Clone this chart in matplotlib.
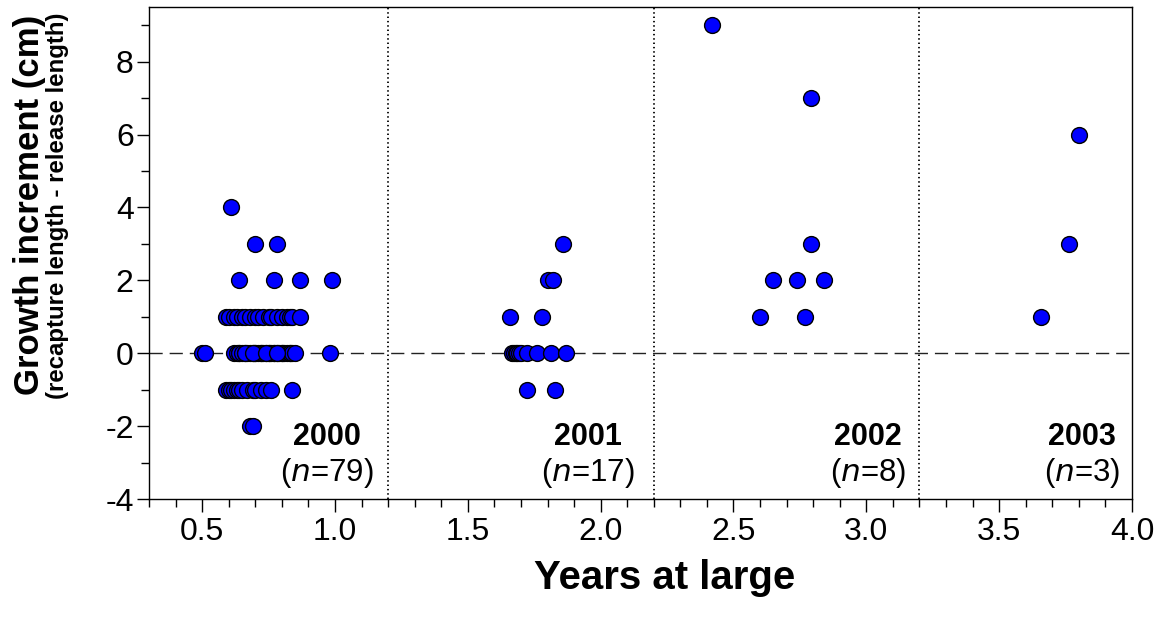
import matplotlib
matplotlib.use("Agg")
import matplotlib.pyplot as plt
from matplotlib.ticker import MultipleLocator, FormatStrFormatter

plt.rcParams['font.family'] = ['Liberation Sans', 'DejaVu Sans']
plt.rcParams['axes.unicode_minus'] = False

# Years at large and growth increment (cm) for each release year
years_2000 = [
    0.61,
    0.70, 0.78,
    0.64, 0.77, 0.87, 0.99,
    0.59, 0.60, 0.62, 0.63, 0.65, 0.66, 0.68, 0.70, 0.71, 0.73, 0.75, 0.76,
    0.78, 0.80, 0.82, 0.83, 0.84, 0.87,
    0.50, 0.51, 0.62, 0.63, 0.64, 0.64, 0.65, 0.66, 0.67, 0.68, 0.69, 0.70,
    0.70, 0.71, 0.72, 0.72, 0.73, 0.74, 0.75, 0.75, 0.76, 0.77, 0.77, 0.78,
    0.79, 0.80, 0.80, 0.81, 0.82, 0.83, 0.83, 0.84, 0.85, 0.66, 0.69, 0.74,
    0.98, 0.78,
    0.59, 0.60, 0.61, 0.62, 0.63, 0.64, 0.65, 0.67, 0.69, 0.70, 0.72, 0.74,
    0.76, 0.84,
    0.68, 0.69,
]
growth_2000 = [
    4,
    3, 3,
    2, 2, 2, 2,
    1, 1, 1, 1, 1, 1, 1, 1, 1, 1, 1, 1,
    1, 1, 1, 1, 1, 1,
    0, 0, 0, 0, 0, 0, 0, 0, 0, 0, 0, 0,
    0, 0, 0, 0, 0, 0, 0, 0, 0, 0, 0, 0,
    0, 0, 0, 0, 0, 0, 0, 0, 0, 0, 0, 0,
    0, 0,
    -1, -1, -1, -1, -1, -1, -1, -1, -1, -1, -1, -1,
    -1, -1,
    -2, -2,
]

years_2001 = [1.859, 1.803, 1.819, 1.658, 1.779,
              1.665, 1.672, 1.680, 1.687, 1.693, 1.700, 1.721, 1.761, 1.812, 1.869,
              1.721, 1.830]
growth_2001 = [3, 2, 2, 1, 1,
               0, 0, 0, 0, 0, 0, 0, 0, 0, 0,
               -1, -1]

years_2002 = [2.419, 2.790, 2.790, 2.649, 2.740, 2.840, 2.599, 2.770]
growth_2002 = [9, 7, 3, 2, 2, 2, 1, 1]

years_2003 = [3.657, 3.762, 3.800]
growth_2003 = [1, 3, 6]

release_years = ["2000", "2001", "2002", "2003"]
sample_sizes = [79, 17, 8, 3]
year_breaks = [1.2, 2.2, 3.2]
label_x = [0.970, 1.952, 3.007, 3.811]

fig = plt.figure(figsize=(11.63, 6.17), dpi=100)
ax = fig.add_axes([149 / 1163, 1 - 499 / 617, (1132 - 149) / 1163, (499 - 7) / 617])

ax.axhline(0, color='#222222', lw=1.0, dashes=(9.5, 5.0), zorder=1)
for xb in year_breaks:
    ax.axvline(xb, color='black', lw=1.3, linestyle=(0, (0.8, 1.6)), zorder=1)

for xs, ys in [(years_2000, growth_2000), (years_2001, growth_2001),
               (years_2002, growth_2002), (years_2003, growth_2003)]:
    ax.scatter(xs, ys, s=130, facecolor='#0000ff', edgecolor='black',
               linewidth=1.0, zorder=3)

for lx, yr, n in zip(label_x, release_years, sample_sizes):
    ax.text(lx, -2.52, yr, ha='center', va='baseline', fontsize=22,
            fontweight='bold', zorder=4)
    ax.text(lx, -3.50, r"($\mathit{n}$=%d)" % n, ha='center', va='baseline',
            fontsize=22.5, zorder=4)

ax.set_xlim(0.3, 4.0)
ax.set_ylim(-4, 9.5)
ax.xaxis.set_major_locator(MultipleLocator(0.5))
ax.xaxis.set_minor_locator(MultipleLocator(0.1))
ax.xaxis.set_major_formatter(FormatStrFormatter('%.1f'))
ax.yaxis.set_major_locator(MultipleLocator(2))
ax.yaxis.set_minor_locator(MultipleLocator(1))

ax.tick_params(axis='both', which='major', direction='out', length=9,
               width=1.0, labelsize=23, pad=2)
ax.tick_params(axis='both', which='minor', direction='out', length=6, width=1.0)
ax.tick_params(axis='x', which='major', pad=4)
for sp in ax.spines.values():
    sp.set_linewidth(1.0)
    sp.set_color('black')

fig.text(665 / 1163, 1 - 578 / 617, "Years at large", ha='center', va='center',
         fontsize=29, fontweight='bold')
fig.text(30 / 1163, 1 - 205 / 617, "Growth increment (cm)", rotation=90,
         ha='center', va='center', fontsize=25, fontweight='bold')
fig.text(58 / 1163, 1 - 206 / 617, "(recapture length - release length)",
         rotation=90, ha='center', va='center', fontsize=17.3, fontweight='bold')

fig.savefig("out.png", dpi=100)
